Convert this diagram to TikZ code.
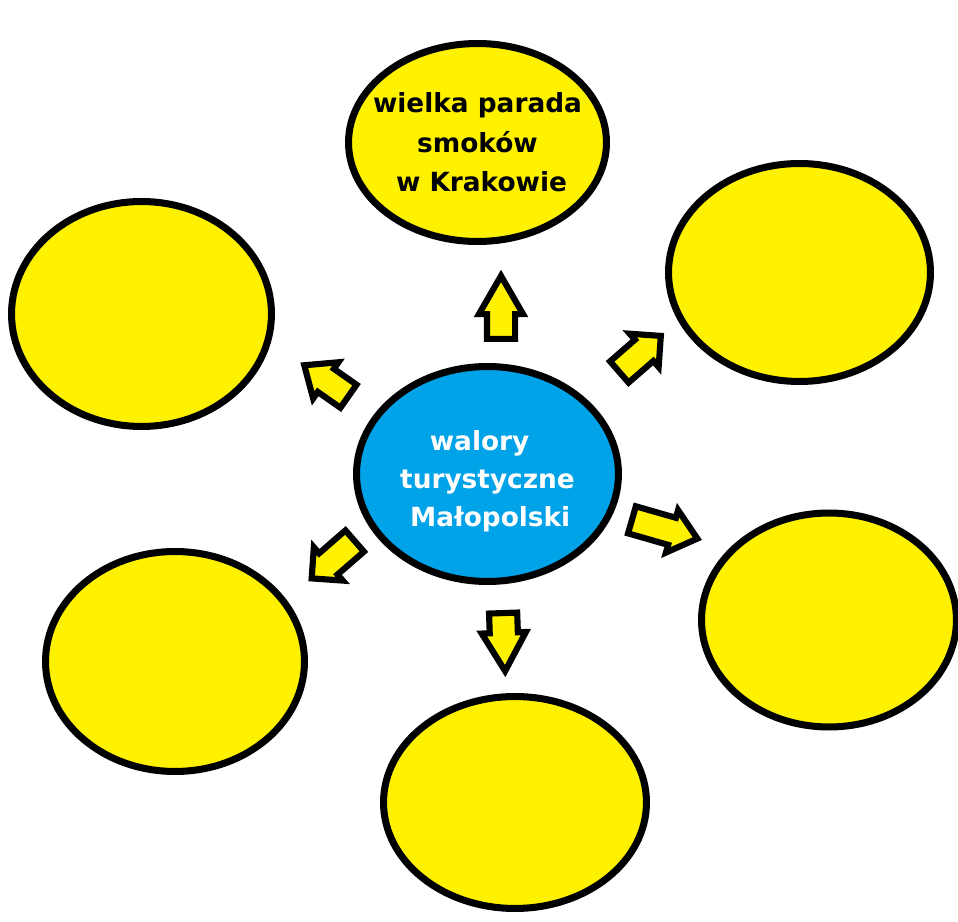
\documentclass[tikz,border=0pt]{standalone}
\usepackage{fontspec}
\setmainfont{DejaVu Sans}
\usetikzlibrary{shapes.geometric,shapes.arrows}
\definecolor{paintyellow}{HTML}{FFF200}
\definecolor{paintblue}{HTML}{00A2E8}
\newlength{\rimwd}
\setlength{\rimwd}{4pt}

\begin{document}
\begin{tikzpicture}[x=0.02cm,y=-0.02cm,
    bubble/.style={ellipse,draw=black,line width=\rimwd,fill=paintyellow,inner sep=0pt},
    hub/.style={bubble,fill=paintblue},
    caption/.style={align=center,font=\fontsize{15}{22.5}\selectfont\bfseries},
    blockarrow/.style={single arrow,draw=black,line width=3.5pt,fill=paintyellow,anchor=tail,
      inner xsep=0pt,inner ysep=0.22cm,minimum width=0.76cm,
      single arrow head extend=0.16cm}]
  \useasboundingbox (0,0) rectangle (958,922);
            \node[hub,minimum width=5.24cm,minimum height=4.30cm] (hub) at (487.5,474) {};
            \node[caption,text=white,font=\fontsize{15}{21.5}\selectfont\bfseries,yshift=-0.14cm] (hubtext) at (hub) {walory\hspace*{0.6em}\\turystyczne\\\hspace*{0.2em}Małopolski};
            \node[bubble,minimum width=5.16cm,minimum height=3.96cm] (top) at (477.5,142.5) {};
            \node[caption] (toptext) at (top) {wielka parada\\smoków\hspace*{0.4em}\\\hspace*{0.3em}w Krakowie};
            \node[bubble,minimum width=5.24cm,minimum height=4.36cm] (rtop) at (799.5,272.5) {};
            \node[bubble,minimum width=5.20cm,minimum height=4.50cm] (ltop) at (141.5,314) {};
            \node[bubble,minimum width=5.10cm,minimum height=4.28cm] (rbot) at (829,620) {};
            \node[bubble,minimum width=5.18cm,minimum height=4.40cm] (lbot) at (175,661.5) {};
            \node[bubble,minimum width=5.26cm,minimum height=4.24cm] (bot) at (515,802.5) {};
            % arrows round the hub
            \node[blockarrow,minimum height=1.26cm,rotate=90,single arrow tip angle=60] (aup) at (501,342) {};
            \node[blockarrow,minimum height=1.10cm,rotate=41,single arrow tip angle=90,minimum width=0.86cm] (aupr) at (617,374) {};
            \node[blockarrow,minimum height=1.08cm,rotate=145,single arrow tip angle=80,minimum width=0.82cm] (aupl) at (351,398) {};
            \node[blockarrow,minimum height=1.14cm,rotate=221,single arrow tip angle=90,minimum width=0.86cm] (alol) at (357,539) {};
            \node[blockarrow,minimum height=1.36cm,rotate=-16,single arrow tip angle=80,minimum width=0.88cm] (alor) at (629,519) {};
            \node[blockarrow,minimum height=1.16cm,rotate=-88,single arrow tip angle=60] (adown) at (503,610) {};
\end{tikzpicture}
\end{document}
